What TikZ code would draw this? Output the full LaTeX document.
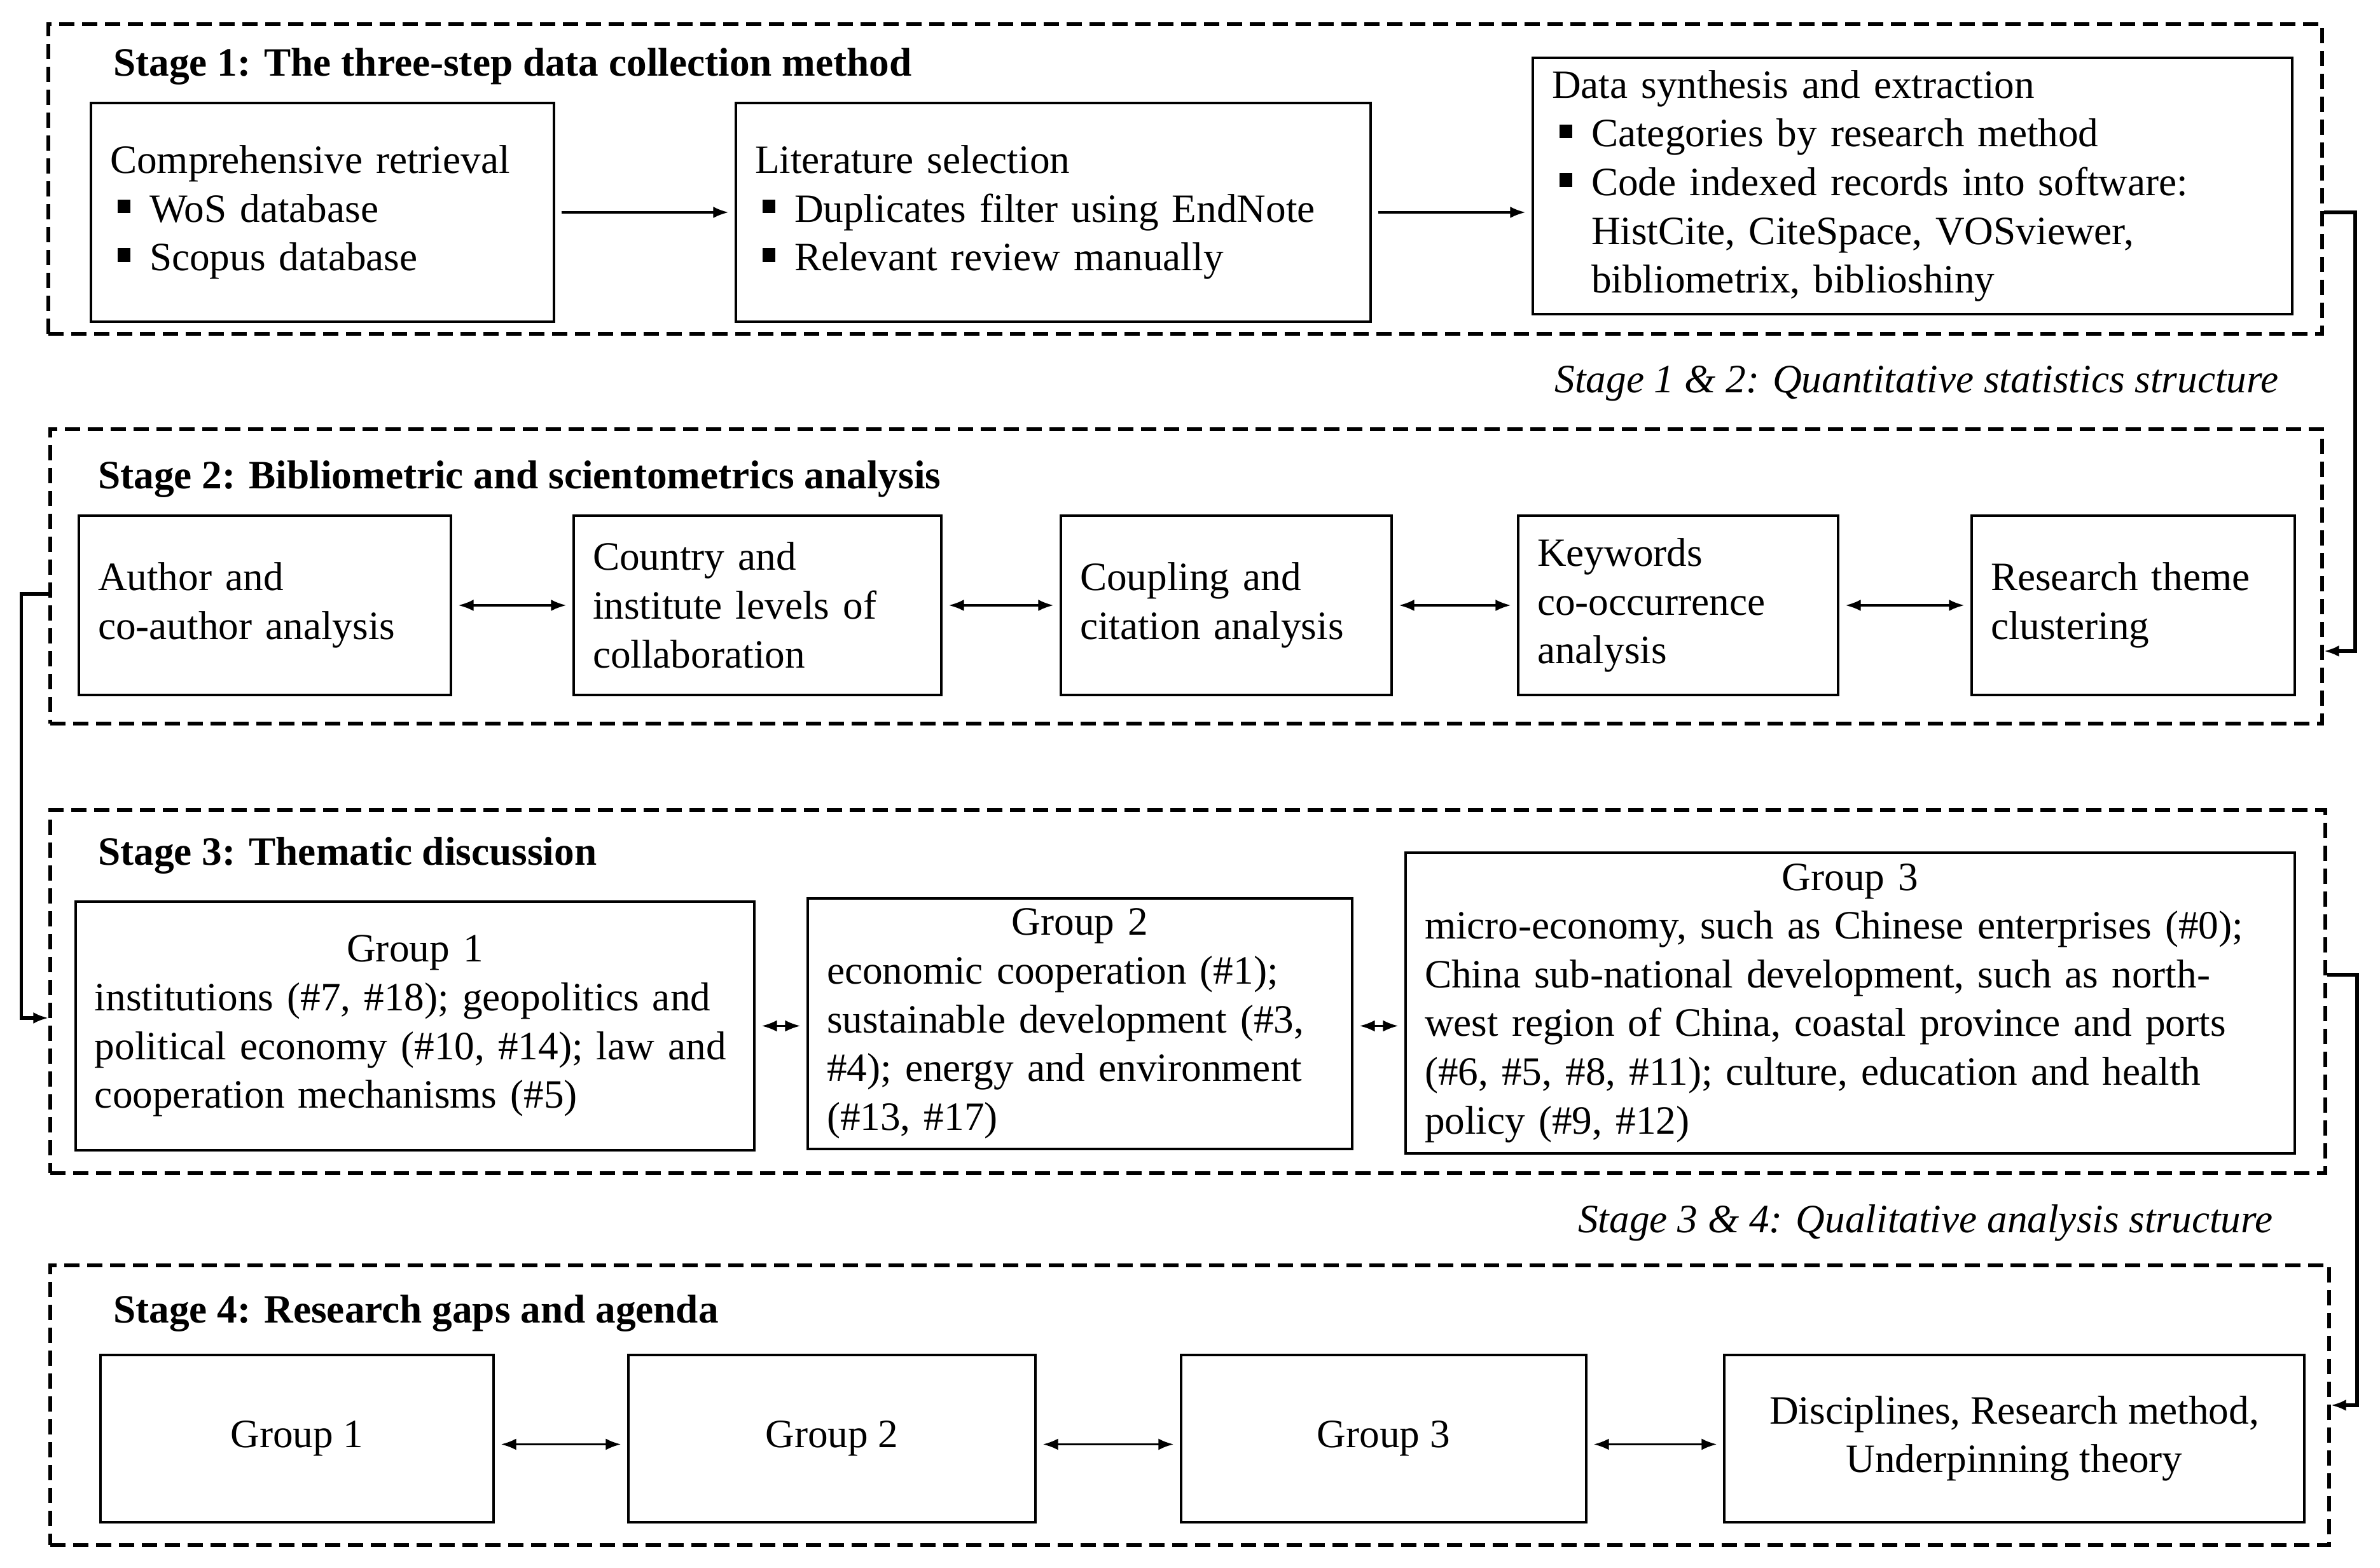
\documentclass[tikz,border=0pt]{standalone}
\usepackage{fontspec}
\setmainfont{Liberation Serif}
\usetikzlibrary{positioning, arrows.meta}

\newcommand{\sqitem}{\hspace*{1.2mm}\makebox[5mm][l]{\rule[0.22em]{0.32em}{0.34em}}}
\newcommand{\indt}{\hspace*{6.2mm}}

\begin{document}
\begin{tikzpicture}[x=1cm, y=1cm,
  font=\fontsize{18}{21.8}\selectfont,
  >={Latex[length=2.4mm,width=1.8mm]},
  stagebox/.style={draw, line width=1.5pt, dash pattern=on 2.4mm off 1.2mm},
  box/.style={draw, line width=0.9pt, inner xsep=3mm, align=left},
  cbox/.style={draw, line width=0.9pt, inner xsep=3mm, align=center},
  title/.style={anchor=west, font=\fontsize{18}{21.8}\selectfont\bfseries},
  caption/.style={anchor=east, font=\fontsize{18}{21.8}\selectfont\itshape},
  link/.style={line width=0.9pt, shorten <=1mm, shorten >=1mm},
  conn/.style={->, line width=1.6pt}]
  \fill[white] (0,0) rectangle (37.42,24.66);
  \useasboundingbox (0,0) rectangle (37.42,24.66);

  %stage frames
  \node[stagebox, minimum width=35.75cm, minimum height=4.87cm] (s1) at (18.635,21.845) {};
  \node[stagebox, minimum width=35.72cm, minimum height=4.63cm] (s2) at (18.65,15.595) {};
  \node[stagebox, minimum width=35.77cm, minimum height=5.71cm] (s3) at (18.675,9.065) {};
  \node[stagebox, minimum width=35.83cm, minimum height=4.40cm] (s4) at (18.705,2.56) {};

  %titles
  \node[title] (t1) at (1.66,23.61) {Stage 1: The three-step data collection method};
  \node[title] (t2) at (1.42,17.12) {Stage 2: Bibliometric and scientometrics analysis};
  \node[title] (t3) at (1.42,11.20) {Stage 3: Thematic discussion};
  \node[title] (t4) at (1.66,4.00) {Stage 4: Research gaps and agenda};
  \node[caption] (c12) at (35.95,18.63) {Stage 1 \& 2: Quantitative statistics structure};
  \node[caption] (c34) at (35.86,5.43) {Stage 3 \& 4: Qualitative analysis structure};

  %stage 1
  \node[box, text width=6.68cm, minimum height=3.44cm] (ret) at (5.07,21.32)
    {Comprehensive retrieval\\ \sqitem WoS database\\ \sqitem Scopus database};
  \node[box, text width=9.38cm, minimum height=3.44cm] (sel) at (16.56,21.32)
    {Literature selection\\ \sqitem Duplicates filter using EndNote\\ \sqitem Relevant review manually};
  \node[box, text width=11.34cm, minimum height=4.03cm] (syn) at (30.07,21.735)
    {Data synthesis and extraction\\ \sqitem Categories by research method\\
     \sqitem Code indexed records into software:\\ \indt HistCite, CiteSpace, VOSviewer,\\
     \indt bibliometrix, biblioshiny};
  \draw[link, ->] (ret.east) -- (ret.east -| sel.west);
  \draw[link, ->] (sel.east) -- (sel.east -| syn.west);

  %stage 2
  \node[box, text width=5.25cm, minimum height=2.82cm] (au) at (4.165,15.14) {Author and\\co-author analysis};
  \node[box, text width=5.18cm, minimum height=2.82cm] (co) at (11.91,15.14) {Country and\\institute levels of\\collaboration};
  \node[box, text width=4.60cm, minimum height=2.82cm] (cp) at (19.28,15.14) {Coupling and\\citation analysis};
  \node[box, text width=4.43cm, minimum height=2.82cm] (kw) at (26.385,15.14) {Keywords\\co-occurrence\\analysis};
  \node[box, text width=4.48cm, minimum height=2.82cm] (rt) at (33.54,15.14) {Research theme\\clustering};
  \foreach \a/\b in {au/co,co/cp,cp/kw,kw/rt}
    \draw[link, <->] (\a.east) -- (\b.west);

  %stage 3
  \node[box, text width=10.07cm, minimum height=3.91cm] (g1) at (6.525,8.525)
    {\makebox[\hsize]{Group 1}\\ institutions (\#7, \#18); geopolitics and\\
     political economy (\#10, \#14); law and\\ cooperation mechanisms (\#5)};
  \node[box, text width=7.96cm, minimum height=3.94cm] (g2) at (16.98,8.56)
    {\makebox[\hsize]{Group 2}\\ economic cooperation (\#1);\\ sustainable development (\#3,\\
     \#4); energy and environment\\ (\#13, \#17)};
  \node[box, text width=13.38cm, minimum height=4.73cm] (g3) at (29.09,8.885)
    {\makebox[\hsize]{Group 3}\\ micro-economy, such as Chinese enterprises (\#0);\\
     China sub-national development, such as north-\\
     west region of China, coastal province and ports\\
     (\#6, \#5, \#8, \#11); culture, education and health\\ policy (\#9, \#12)};
  \draw[link, <->] (g1.east) -- (g1.east -| g2.west);
  \draw[link, <->] (g2.east |- g1.east) -- (g1.east -| g3.west);

  %stage 4
  \node[cbox, minimum width=6.18cm, minimum height=2.63cm] (h1) at (4.67,2.035) {Group 1};
  \node[cbox, minimum width=6.40cm, minimum height=2.63cm] (h2) at (13.08,2.035) {Group 2};
  \node[cbox, minimum width=6.37cm, minimum height=2.63cm] (h3) at (21.755,2.035) {Group 3};
  \node[cbox, minimum width=9.12cm, minimum height=2.63cm] (dis) at (31.67,2.035)
    {Disciplines, Research method,\\Underpinning theory};
  \foreach \a/\b in {h1/h2,h2/h3,h3/dis}
    \draw[link, <->] ([yshift=-0.9mm]\a.east) -- ([yshift=-0.9mm]\a.east -| \b.west);

  %stage links
  \draw[conn] (s1.east |- ret.east) -- ++(0.49,0) |- ([yshift=-1.175cm]s2.east);
  \draw[conn] ([yshift=-0.275cm]s2.west) -- ++(-0.43,0) |- ([yshift=-0.415cm]s3.west);
  \draw[conn] ([yshift=0.265cm]s3.east) -- ++(0.47,0) |- (s4.east);
\end{tikzpicture}
\end{document}
